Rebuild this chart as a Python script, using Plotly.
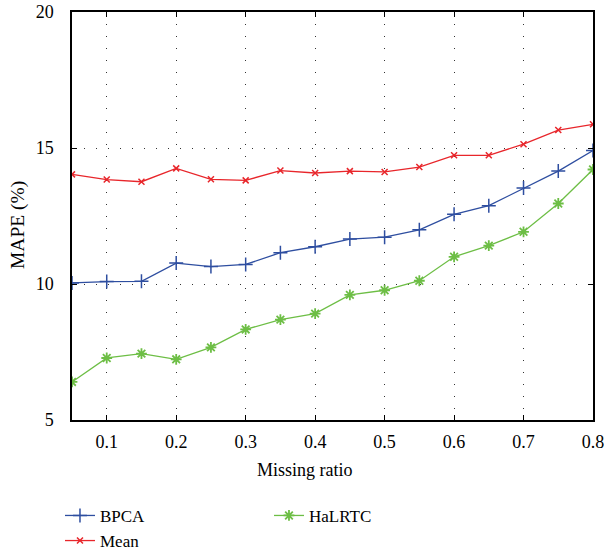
import plotly.graph_objects as go

missing_ratio = [0.05, 0.1, 0.15, 0.2, 0.25, 0.3, 0.35, 0.4, 0.45, 0.5, 0.55, 0.6, 0.65, 0.7, 0.75, 0.8]
bpca = [10.04, 10.09, 10.10, 10.77, 10.64, 10.72, 11.15, 11.37, 11.65, 11.72, 11.99, 12.56, 12.88, 13.53, 14.15, 14.91]
mean = [14.03, 13.84, 13.76, 14.25, 13.85, 13.81, 14.17, 14.08, 14.15, 14.12, 14.30, 14.73, 14.73, 15.14, 15.66, 15.87]
halrtc = [6.40, 7.28, 7.44, 7.23, 7.67, 8.33, 8.69, 8.91, 9.60, 9.77, 10.12, 11.00, 11.41, 11.92, 12.96, 14.21]

x_ticks = [0.1, 0.2, 0.3, 0.4, 0.5, 0.6, 0.7, 0.8]
y_ticks = [5, 10, 15, 20]
x_title = "Missing ratio"
y_title = "MAPE (%)"

FONT = "Liberation Serif"

fig = go.Figure()
fig.add_trace(go.Scatter(x=missing_ratio, y=mean, name="Mean", mode="lines+markers",
                         line=dict(color="#E8262B", width=1.3),
                         marker=dict(symbol="x-thin-open", size=6, line=dict(color="#E8262B", width=1.5)),
                         legendrank=3))
fig.add_trace(go.Scatter(x=missing_ratio, y=bpca, name="BPCA", mode="lines+markers",
                         line=dict(color="#2E4EA0", width=1.3),
                         marker=dict(symbol="cross-thin-open", size=10, line=dict(color="#2E4EA0", width=1.5)),
                         legendrank=1))
fig.add_trace(go.Scatter(x=missing_ratio, y=halrtc, name="HaLRTC", mode="lines+markers",
                         line=dict(color="#6DBE45", width=1.3),
                         marker=dict(symbol="asterisk-open", size=9, line=dict(color="#6DBE45", width=1.8)),
                         legendrank=2))

axis_common = dict(showline=True, linecolor="black", linewidth=1.5, mirror="ticks",
                   ticks="inside", ticklen=5, tickcolor="black", tickwidth=1.2,
                   showgrid=True, gridcolor="#333333", griddash="1px,11px", gridwidth=1.2,
                   zeroline=False, automargin=False, ticklabeloverflow="allow",
                   tickfont=dict(family=FONT, size=18, color="black"))

fig.update_xaxes(range=[0.05, 0.8], tickvals=x_ticks, ticktext=[str(v) for v in x_ticks],
                 ticklabelstandoff=5, **axis_common)
fig.update_yaxes(range=[5, 20], tickvals=y_ticks, ticklabelstandoff=13, **axis_common)

fig.add_annotation(text=x_title, xref="paper", yref="paper", x=0.447, y=-0.1225,
                   xanchor="center", yanchor="middle", showarrow=False,
                   font=dict(family=FONT, size=18, color="black"))
fig.add_annotation(text=y_title, xref="paper", yref="paper", x=-0.1036, y=0.478,
                   xanchor="center", yanchor="middle", textangle=-90, showarrow=False,
                   font=dict(family=FONT, size=19.5, color="black"))

fig.update_layout(
    width=604, height=552,
    margin=dict(l=72, r=11, t=12, b=132, autoexpand=False),
    plot_bgcolor="white", paper_bgcolor="white",
    font=dict(family=FONT, size=17, color="black"),
    legend=dict(orientation="h", xref="container", yref="container",
                x=0.0993, xanchor="left", y=0.098, yanchor="top",
                entrywidth=164, entrywidthmode="pixels", traceorder="normal",
                font=dict(family=FONT, size=17, color="black"), tracegroupgap=0,
                bgcolor="rgba(0,0,0,0)"),
    showlegend=True,
)

fig.write_html("out.html", config={"displayModeBar": False},
               post_script="document.body.style.margin='0';")
